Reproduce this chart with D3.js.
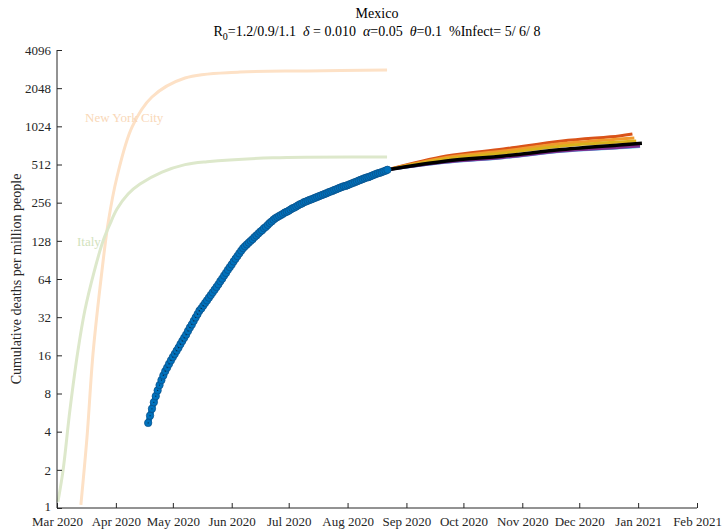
<!DOCTYPE html>
<html>
<head>
<meta charset="utf-8">
<script src="https://cdn.jsdelivr.net/npm/d3@7"></script>
<style>
  body { margin: 0; background: #fff; }
  svg text { font-family: 'Liberation Serif', 'Times New Roman', serif; }
</style>
</head>
<body>
<svg id="chart" width="727" height="529"></svg>
<script>
// tick labels
const yTicks = [1, 2, 4, 8, 16, 32, 64, 128, 256, 512, 1024, 2048, 4096];
const xTicks = ["2020-03-01", "2020-04-01", "2020-05-01", "2020-06-01", "2020-07-01", "2020-08-01",
    "2020-09-01", "2020-10-01", "2020-11-01", "2020-12-01", "2021-01-01", "2021-02-01"];

// reference curves (date, deaths per million)
const nycDates = ["2020-03-13T14", "2020-03-16T19", "2020-03-20T00", "2020-03-24T17", "2020-03-27T22",
    "2020-04-01T14", "2020-04-09T12", "2020-04-20T00", "2020-05-07T10", "2020-06-05T10",
    "2020-07-10T14", "2020-08-21T19"];
const nycValues = [1.06, 3.6, 16.7, 75, 177, 408, 1011, 1744, 2462, 2743, 2800, 2846];

const italyDates = ["2020-03-01T12", "2020-03-04T05", "2020-03-07T19", "2020-03-12T02", "2020-03-15T17",
    "2020-03-20T12", "2020-03-25T05", "2020-03-28T22", "2020-04-01T14", "2020-04-07T10",
    "2020-04-13T17", "2020-04-25T07", "2020-05-07T10", "2020-05-19T00", "2020-06-22T17", "2020-08-21T19"];
const italyValues = [1.12, 1.99, 5.9, 17.6, 36.4, 72.6, 127, 174, 228, 300, 359, 446, 511, 539, 579, 587];

// Mexico, daily from 2020-04-18
const mexicoStart = "2020-04-18T00";
const mexicoValues = [
    4.69, 5.35, 6.06, 6.82, 7.62, 8.46, 9.32, 10.2, 11.1, 12.0, 12.8, 13.7, 14.6, 15.5, 16.4, 17.4,
    18.4, 19.6, 20.8, 22.0, 23.3, 24.9, 26.5, 28.0, 29.9, 31.8, 33.8, 36.0, 37.5, 39.4, 41.4, 43.4,
    45.6, 47.8, 50.2, 52.7, 55.3, 58.1, 61.4, 64.4, 68.1, 71.5, 75.6, 79.4, 83.3, 88.0, 92.4, 97.0,
    102, 107, 112, 116, 120, 124, 128, 132, 137, 141, 146, 151, 155, 161, 165, 171, 177, 182,
    188, 193, 197, 201, 205, 209, 214, 217, 221, 226, 231, 234, 239, 244, 249, 252, 258, 261,
    265, 269, 272, 276, 280, 284, 288, 292, 296, 300, 304, 309, 313, 317, 322, 326, 331, 336,
    340, 345, 347, 352, 357, 362, 367, 372, 377, 383, 388, 393, 399, 404, 407, 413, 419, 425,
    431, 437, 440, 446, 452, 458, 465
];

// projections
const projDates = ["2020-08-22T00", "2020-09-22T00", "2020-10-22T00", "2020-11-22T00", "2020-12-22T00"];
const projRed = [465, 597, 678, 784, 859, 890];
const projOrange = [465, 581, 654, 749, 813, 828];
const projYellow = [465, 565, 630, 716, 770, 784];
const projCyan = [465, 532, 577, 648, 690, 708];
const projPurple = [465, 535, 581, 654, 697, 716];
const projBlack = [465, 545, 597, 672, 729, 752];
const projEnds = ["2020-12-29T00", "2020-12-30T00", "2020-12-31T00", "2021-01-02T00", "2021-01-02T00", "2021-01-03T00"];

const parse = d3.utcParse("%Y-%m-%dT%H");
const parseDay = d3.utcParse("%Y-%m-%d");
const svg = d3.select("#chart");
const margin = { top: 50, right: 30, bottom: 21, left: 57 };
const width = 727, height = 529;

const x = d3.scaleUtc()
    .domain([parseDay("2020-03-01"), parseDay("2021-02-01")])
    .range([margin.left, 697]);
const y = d3.scaleLog().base(2)
    .domain([1, 4096])
    .range([height - margin.bottom, margin.top]);

const line = d3.line()
    .x(d => x(d[0]))
    .y(d => y(d[1]))
    .curve(d3.curveCatmullRom.alpha(0.5));

const zip = (dates, vals) => dates.map((d, i) => [parse(d), vals[i]]);

// reference curves
svg.append("path")
    .attr("d", line(zip(nycDates, nycValues)))
    .attr("fill", "none").attr("stroke", "#fde1c6").attr("stroke-width", 3);
svg.append("path")
    .attr("d", line(zip(italyDates, italyValues)))
    .attr("fill", "none").attr("stroke", "#dde8cb").attr("stroke-width", 3);

svg.append("text").attr("x", 85).attr("y", 122)
    .attr("font-size", 13).attr("fill", "#f9d8b8").text("New York City");
svg.append("text").attr("x", 77).attr("y", 246)
    .attr("font-size", 13).attr("fill", "#d2e2bd").text("Italy");

// projections
const projections = [
    { vals: projRed, end: projEnds[0], color: "#d95319", w: 3 },
    { vals: projOrange, end: projEnds[1], color: "#f09a2c", w: 3 },
    { vals: projYellow, end: projEnds[2], color: "#d8b21c", w: 3 },
    { vals: projCyan, end: projEnds[4], color: "#4dbeee", w: 2.5 },
    { vals: projPurple, end: projEnds[3], color: "#7e2f8e", w: 3 },
    { vals: projBlack, end: projEnds[5], color: "#000000", w: 3.5 }
];
projections.forEach(p => {
    const pts = zip(projDates.concat([p.end]), p.vals);
    svg.append("path")
        .attr("d", line(pts))
        .attr("fill", "none")
        .attr("stroke", p.color)
        .attr("stroke-width", p.w);
});

// Mexico observed
const start = parse(mexicoStart);
const mexico = mexicoValues.map((v, i) => [d3.utcDay.offset(start, i), v]);
svg.append("path")
    .attr("d", d3.line().x(d => x(d[0])).y(d => y(d[1]))(mexico))
    .attr("fill", "none").attr("stroke", "#0072bd").attr("stroke-width", 6);
svg.append("g").selectAll("circle")
    .data(mexico)
    .join("circle")
    .attr("cx", d => x(d[0]))
    .attr("cy", d => y(d[1]))
    .attr("r", 3.7)
    .attr("fill", "#0072bd")
    .attr("stroke", "#0b4f85")
    .attr("stroke-width", 0.7);
svg.append("g").selectAll("circle")
    .data(mexico.slice(0, 30))
    .join("circle")
    .attr("cx", d => x(d[0]))
    .attr("cy", d => y(d[1]))
    .attr("r", 0.6)
    .attr("fill", "#062a48");

// axes
const yAxis = svg.append("g")
    .attr("transform", `translate(${margin.left},0)`)
    .call(d3.axisLeft(y).tickValues(yTicks).tickFormat(d3.format("d")).tickSize(-5).tickPadding(6));
const xAxis = svg.append("g")
    .attr("transform", `translate(0,${height - margin.bottom})`)
    .call(d3.axisBottom(x).tickValues(xTicks.map(parseDay)).tickFormat(d3.utcFormat("%b %Y")).tickSize(-5).tickPadding(9));

[yAxis, xAxis].forEach(g => {
    g.attr("font-family", "'Liberation Serif', 'Times New Roman', serif").attr("font-size", 13);
    g.selectAll("path.domain").attr("stroke", "#262626").attr("stroke-width", 1);
    g.selectAll(".tick line").attr("stroke", "#262626");
    g.selectAll(".tick text").attr("fill", "#262626");
});
// no outer tick stubs
yAxis.select("path.domain").attr("d", `M0,${y(4096)}V${y(1)}`);
xAxis.select("path.domain").attr("d", `M${margin.left},0H697`);
// lift the bottom "1" a little so it clears the date labels
yAxis.selectAll(".tick text").filter(d => d === 1).attr("dy", "0.2em");

// labels
svg.append("text")
    .attr("transform", `translate(21,${(y(1) + y(4096)) / 2}) rotate(-90)`)
    .attr("text-anchor", "middle")
    .attr("font-size", 14)
    .attr("fill", "#262626")
    .text("Cumulative deaths per million people");

svg.append("text")
    .attr("x", 377).attr("y", 18)
    .attr("text-anchor", "middle").attr("font-size", 14).attr("fill", "#000")
    .text("Mexico");

const sub = svg.append("text")
    .attr("x", 377).attr("y", 36)
    .attr("text-anchor", "middle").attr("font-size", 14).attr("fill", "#000")
    .attr("xml:space", "preserve");
sub.append("tspan").text("R");
sub.append("tspan").attr("dy", 4).attr("font-size", 10).text("0");
sub.append("tspan").attr("dy", -4).text("=1.2/0.9/1.1  ");
sub.append("tspan").attr("font-style", "italic").text("δ");
sub.append("tspan").text(" = 0.010  ");
sub.append("tspan").attr("font-style", "italic").text("α");
sub.append("tspan").text("=0.05  ");
sub.append("tspan").attr("font-style", "italic").text("θ");
sub.append("tspan").text("=0.1  %Infect= 5/ 6/ 8");
</script>
</body>
</html>
